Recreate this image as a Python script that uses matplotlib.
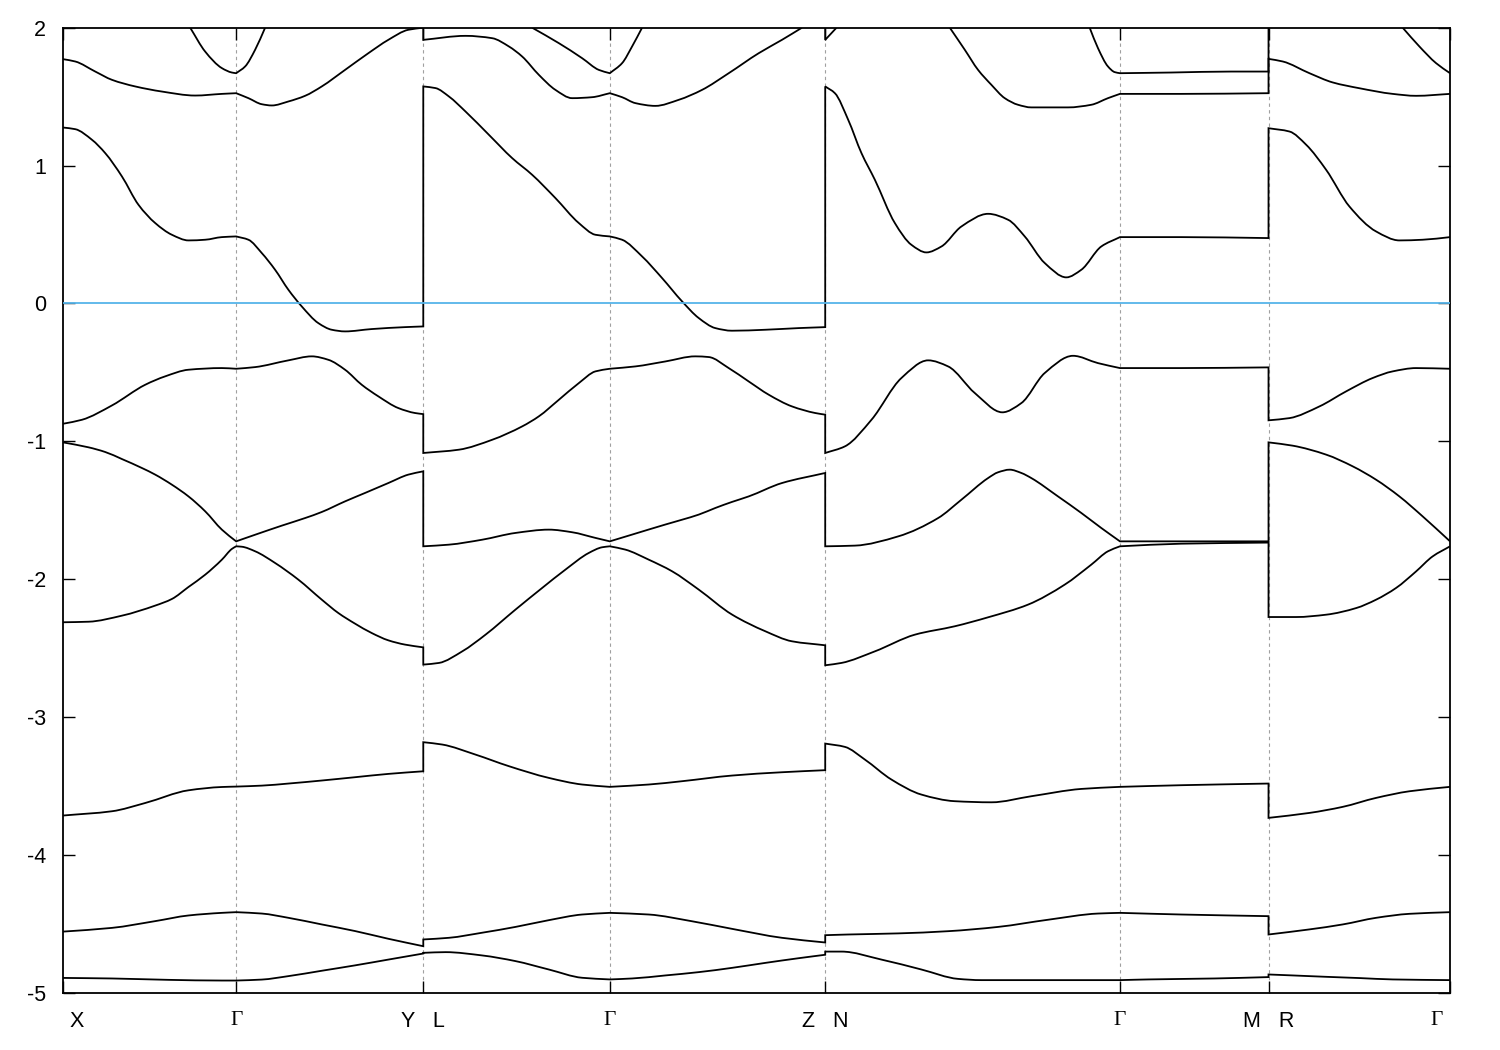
import numpy as np
import matplotlib.pyplot as plt
import matplotlib.transforms as mtransforms
from matplotlib.path import Path
from matplotlib.patches import PathPatch

plt.rcParams['font.family'] = ['Liberation Sans', 'DejaVu Sans']
plt.rcParams['axes.unicode_minus'] = False

# high symmetry points along the k-path
hs_k = [0.0, 1.733, 3.606, 5.473, 7.629, 10.579, 12.066, 13.883]
hs_labels = ['X', 'Γ', 'Y   L', 'Γ', 'Z   N', 'Γ', 'M   R', 'Γ']

gap = (np.nan, np.nan)

# bands, (k, E) pairs, bottom to top
band_a = [(0.000, -4.893), (0.490, -4.897), (1.056, -4.907), (1.590, -4.912), (1.733, -4.912),
          (1.990, -4.905), (2.256, -4.880), (2.590, -4.841), (2.923, -4.802), (3.256, -4.760),
          (3.606, -4.716),
          (3.606, -4.711), (3.829, -4.706), (4.196, -4.730), (4.529, -4.771), (4.863, -4.832),
          (5.196, -4.892), (5.473, -4.904), (5.696, -4.897), (6.029, -4.875), (6.363, -4.851),
          (6.696, -4.820), (7.029, -4.784), (7.363, -4.750), (7.629, -4.725),
          (7.629, -4.702), (7.792, -4.702), (8.192, -4.760), (8.592, -4.832), (8.959, -4.900),
          (9.192, -4.909), (9.859, -4.909), (10.579, -4.909), (10.859, -4.904), (11.526, -4.897),
          (12.066, -4.887),
          (12.066, -4.868), (12.309, -4.875), (12.643, -4.885), (12.976, -4.894), (13.309, -4.904),
          (13.883, -4.909)]

band_b = [(0.000, -4.557), (0.490, -4.530), (0.923, -4.481), (1.256, -4.440), (1.590, -4.421),
          (1.733, -4.416), (1.990, -4.426), (2.256, -4.457), (2.590, -4.505), (2.923, -4.553),
          (3.256, -4.609), (3.606, -4.663),
          (3.606, -4.614), (3.863, -4.602), (4.196, -4.565), (4.529, -4.523), (4.863, -4.474),
          (5.196, -4.433), (5.473, -4.421), (5.863, -4.433), (6.296, -4.482), (6.696, -4.537),
          (7.196, -4.602), (7.629, -4.636),
          (7.629, -4.583), (7.859, -4.578), (8.359, -4.570), (8.859, -4.554), (9.359, -4.523),
          (9.859, -4.471), (10.359, -4.426), (10.579, -4.421), (11.192, -4.433), (12.066, -4.445),
          (12.066, -4.578), (12.476, -4.541), (12.809, -4.505), (13.143, -4.457), (13.476, -4.428),
          (13.883, -4.416)]

band_c = [(0.000, -3.715), (0.490, -3.684), (0.823, -3.624), (1.256, -3.532), (1.590, -3.508),
          (1.733, -3.505), (1.990, -3.498), (2.256, -3.483), (2.590, -3.461), (2.923, -3.437),
          (3.256, -3.413), (3.606, -3.394),
          (3.606, -3.183), (3.796, -3.200), (4.129, -3.273), (4.463, -3.357), (4.863, -3.442),
          (5.196, -3.490), (5.473, -3.507), (5.863, -3.490), (6.196, -3.466), (6.696, -3.425),
          (7.196, -3.401), (7.629, -3.386),
          (7.629, -3.193), (7.826, -3.217), (8.026, -3.309), (8.292, -3.454), (8.592, -3.563),
          (8.926, -3.611), (9.292, -3.619), (9.692, -3.575), (10.192, -3.522), (10.579, -3.507),
          (11.192, -3.495), (12.066, -3.483),
          (12.066, -3.732), (12.476, -3.696), (12.809, -3.652), (13.143, -3.587), (13.476, -3.539),
          (13.883, -3.507)]

band_d = [(0.000, -2.313), (0.256, -2.309), (0.590, -2.265), (0.923, -2.192), (1.090, -2.144),
          (1.256, -2.057), (1.423, -1.968), (1.590, -1.859), (1.690, -1.781), (1.733, -1.762),
          (1.790, -1.765), (1.923, -1.798), (2.123, -1.883), (2.356, -2.004), (2.590, -2.149),
          (2.756, -2.246), (2.923, -2.323), (3.090, -2.391), (3.256, -2.444), (3.423, -2.475),
          (3.606, -2.495),
          (3.606, -2.620), (3.763, -2.608), (3.996, -2.524), (4.229, -2.403), (4.529, -2.221),
          (4.796, -2.064), (5.029, -1.931), (5.263, -1.810), (5.396, -1.769), (5.473, -1.762),
          (5.629, -1.786), (5.863, -1.859), (6.096, -1.943), (6.363, -2.076), (6.696, -2.257),
          (7.029, -2.378), (7.296, -2.451), (7.629, -2.480),
          (7.629, -2.625), (7.792, -2.608), (8.126, -2.524), (8.526, -2.403), (8.926, -2.342),
          (9.259, -2.277), (9.659, -2.185), (10.026, -2.040), (10.292, -1.895), (10.459, -1.798),
          (10.579, -1.762), (11.192, -1.743), (12.066, -1.735),
          (12.066, -2.275), (12.343, -2.275), (12.643, -2.258), (12.943, -2.210), (13.143, -2.149),
          (13.343, -2.064), (13.543, -1.944), (13.709, -1.835), (13.883, -1.762)]

band_e = [(0.000, -1.008), (0.256, -1.044), (0.423, -1.078), (0.590, -1.129), (0.790, -1.194),
          (0.923, -1.242), (1.090, -1.315), (1.256, -1.400), (1.423, -1.508), (1.590, -1.641),
          (1.733, -1.726), (1.923, -1.678), (2.190, -1.612), (2.423, -1.557), (2.590, -1.513),
          (2.823, -1.436), (3.023, -1.375), (3.256, -1.303), (3.456, -1.242), (3.606, -1.218),
          (3.606, -1.762), (3.863, -1.750), (4.196, -1.714), (4.529, -1.665), (4.863, -1.641),
          (5.096, -1.660), (5.329, -1.701), (5.473, -1.726), (5.696, -1.677), (6.029, -1.604),
          (6.196, -1.569), (6.363, -1.532), (6.529, -1.484), (6.696, -1.440), (6.863, -1.400),
          (7.196, -1.303), (7.629, -1.230),
          (7.629, -1.762), (7.926, -1.757), (8.359, -1.690), (8.759, -1.557), (8.992, -1.424),
          (9.259, -1.267), (9.359, -1.225), (9.476, -1.206), (9.592, -1.230), (9.692, -1.267),
          (9.959, -1.400), (10.192, -1.520), (10.392, -1.629), (10.579, -1.726), (11.192, -1.726),
          (12.066, -1.726),
          (12.066, -1.008), (12.309, -1.032), (12.643, -1.097), (12.909, -1.182), (13.143, -1.279),
          (13.376, -1.400), (13.609, -1.545), (13.883, -1.726)]

band_f = [(0.000, -0.873), (0.190, -0.844), (0.490, -0.740), (0.823, -0.590), (1.023, -0.529),
          (1.256, -0.481), (1.590, -0.469), (1.733, -0.474), (1.923, -0.462), (2.256, -0.413),
          (2.490, -0.384), (2.656, -0.409), (2.823, -0.481), (2.990, -0.590), (3.156, -0.674),
          (3.356, -0.759), (3.523, -0.795), (3.606, -0.803),
          (3.606, -1.085), (3.963, -1.061), (4.296, -0.989), (4.596, -0.892), (4.763, -0.819),
          (4.963, -0.699), (5.163, -0.578), (5.329, -0.493), (5.473, -0.474), (5.729, -0.457),
          (6.029, -0.421), (6.329, -0.384), (6.463, -0.389), (6.663, -0.469), (6.863, -0.566),
          (7.063, -0.662), (7.296, -0.747), (7.529, -0.795), (7.629, -0.807),
          (7.629, -1.085), (7.826, -1.037), (8.092, -0.844), (8.392, -0.541), (8.659, -0.413),
          (8.859, -0.457), (9.126, -0.650), (9.402, -0.790), (9.592, -0.723), (9.826, -0.505),
          (10.109, -0.380), (10.359, -0.433), (10.579, -0.469), (11.192, -0.469), (12.066, -0.464),
          (12.066, -0.848), (12.276, -0.832), (12.576, -0.747), (12.843, -0.638), (13.109, -0.541),
          (13.309, -0.493), (13.543, -0.469), (13.883, -0.474)]

band_g = [(0.000, 1.276), (0.123, 1.264), (0.290, 1.187), (0.423, 1.090), (0.590, 0.921),
          (0.756, 0.715), (0.923, 0.583), (1.090, 0.498), (1.256, 0.457), (1.423, 0.462),
          (1.590, 0.481), (1.733, 0.486), (1.856, 0.462), (1.990, 0.365), (2.123, 0.244),
          (2.256, 0.099), (2.390, -0.022), (2.556, -0.143), (2.690, -0.191), (2.823, -0.203),
          (3.090, -0.186), (3.423, -0.172), (3.606, -0.167),
          (3.606, 1.574), (3.729, 1.562), (3.863, 1.501), (4.029, 1.392), (4.263, 1.223),
          (4.496, 1.054), (4.696, 0.933), (4.929, 0.764), (5.163, 0.583), (5.329, 0.498),
          (5.473, 0.486), (5.596, 0.462), (5.796, 0.341), (5.996, 0.184), (6.196, 0.015),
          (6.363, -0.106), (6.529, -0.179), (6.696, -0.198), (7.029, -0.191), (7.363, -0.179),
          (7.629, -0.172),
          (7.629, 1.574), (7.726, 1.525), (7.859, 1.332), (7.992, 1.090), (8.126, 0.897),
          (8.326, 0.583), (8.492, 0.425), (8.642, 0.370), (8.792, 0.413), (8.992, 0.558),
          (9.259, 0.650), (9.459, 0.607), (9.626, 0.486), (9.826, 0.293), (10.042, 0.189),
          (10.192, 0.244), (10.392, 0.413), (10.579, 0.481), (11.192, 0.481), (12.066, 0.474),
          (12.066, 1.271), (12.276, 1.247), (12.443, 1.151), (12.643, 0.969), (12.876, 0.703),
          (13.143, 0.522), (13.376, 0.457), (13.609, 0.462), (13.883, 0.481)]

band_h = [(0.000, 1.772), (0.123, 1.755), (0.323, 1.682), (0.490, 1.622), (0.723, 1.574),
          (0.990, 1.537), (1.323, 1.508), (1.590, 1.520), (1.733, 1.525), (1.856, 1.489),
          (1.990, 1.445), (2.090, 1.436), (2.256, 1.465), (2.423, 1.506), (2.590, 1.574),
          (2.823, 1.694), (3.056, 1.815), (3.256, 1.912), (3.456, 1.985), (3.606, 2.000),
          (3.606, 1.912), (4.029, 1.941), (4.296, 1.924), (4.463, 1.864), (4.596, 1.791),
          (4.763, 1.658), (4.929, 1.549), (5.096, 1.489), (5.296, 1.496), (5.473, 1.525),
          (5.596, 1.496), (5.729, 1.453), (5.929, 1.433), (6.163, 1.477), (6.396, 1.549),
          (6.663, 1.670), (6.963, 1.815), (7.196, 1.912), (7.396, 2.000), gap,
          (7.629, 2.000), (7.629, 1.912), (7.742, 2.000), gap,
          (8.876, 2.000), (9.026, 1.840), (9.159, 1.694), (9.292, 1.586), (9.426, 1.489),
          (9.559, 1.441), (9.692, 1.422), (10.059, 1.422), (10.292, 1.441), (10.459, 1.489),
          (10.579, 1.520), (11.192, 1.520), (12.066, 1.525),
          (12.066, 1.774), (12.209, 1.755), (12.476, 1.670), (12.709, 1.603), (12.976, 1.561),
          (13.309, 1.520), (13.543, 1.506), (13.883, 1.520)]

band_i = [(1.273, 2.000), (1.423, 1.827), (1.590, 1.707), (1.690, 1.675), (1.733, 1.670),
          (1.823, 1.719), (1.923, 1.840), (2.023, 2.000), gap,
          (4.696, 2.000), (4.963, 1.888), (5.196, 1.779), (5.363, 1.694), (5.473, 1.670),
          (5.596, 1.743), (5.696, 1.864), (5.796, 2.000), gap,
          (10.276, 2.000), (10.359, 1.852), (10.459, 1.719), (10.526, 1.678), (10.579, 1.670),
          (11.092, 1.675), (11.692, 1.682), (12.066, 1.682), (12.066, 2.000), gap,
          (13.409, 2.000), (13.576, 1.864), (13.743, 1.743), (13.883, 1.670)]

bands = [band_a, band_b, band_c, band_d, band_e, band_f, band_g, band_h, band_i]


def slopes(x, y):
    # monotone (pchip-like) tangents so the drawn curve does not overshoot
    h = np.diff(x)
    d = np.diff(y) / h
    m = np.zeros(len(x))
    m[0], m[-1] = d[0], d[-1]
    for i in range(1, len(x) - 1):
        if d[i - 1] * d[i] > 0:
            w1 = 2 * h[i] + h[i - 1]
            w2 = h[i] + 2 * h[i - 1]
            m[i] = (w1 + w2) / (w1 / d[i - 1] + w2 / d[i])
    return m


def band_path(pts):
    arr = np.array(pts, dtype=float)
    verts, codes = [], []
    breaks = np.where(np.isnan(arr[:, 0]))[0]
    runs = np.split(arr, breaks)
    for run in runs:
        run = run[~np.isnan(run[:, 0])]
        if len(run) == 0:
            continue
        # cut into smooth pieces at jumps and at the symmetry points
        pieces, cur = [], [run[0]]
        for p in run[1:]:
            if p[0] == cur[-1][0]:
                pieces.append(cur)
                cur = [p]
            else:
                cur.append(p)
                if any(abs(p[0] - k) < 1e-9 for k in hs_k[1:-1]):
                    pieces.append(cur)
                    cur = [p]
        pieces.append(cur)
        verts.append(run[0])
        codes.append(Path.MOVETO)
        pen = run[0]
        for pc in pieces:
            pc = np.array(pc)
            if not np.allclose(pc[0], pen):
                verts.append(pc[0])
                codes.append(Path.LINETO)
            if len(pc) < 2:
                pen = pc[-1]
                continue
            x, y = pc[:, 0], pc[:, 1]
            m = slopes(x, y)
            for i in range(len(x) - 1):
                dx = (x[i + 1] - x[i]) / 3
                verts += [(x[i] + dx, y[i] + m[i] * dx),
                          (x[i + 1] - dx, y[i + 1] - m[i + 1] * dx),
                          (x[i + 1], y[i + 1])]
                codes += [Path.CURVE4] * 3
            pen = pc[-1]
    return Path(verts, codes)


fig = plt.figure(figsize=(15, 10.5), dpi=100)
ax = fig.add_axes([0.042, 0.0546, 0.9247, 0.919])

for b in bands:
    ax.add_patch(PathPatch(band_path(b), fill=False, edgecolor='black', lw=1.3, zorder=2))

for k in hs_k[1:-1]:
    ax.axvline(k, color='#a0a0a0', lw=0.8, ls=(0, (3, 3)), zorder=1)

ax.axhline(0, color='#56b4e9', lw=1.3, zorder=3)

ax.set_xlim(hs_k[0], hs_k[-1])
ax.set_ylim(-5, 2)
ax.set_yticks(range(-5, 3))
ax.set_xticks(hs_k)
ax.set_xticklabels([])

ax.tick_params(direction='in', length=8.5, width=1.0, labelsize=15.5,
               top=True, right=True)
ax.tick_params(axis='y', pad=12)
for s in ax.spines.values():
    s.set_linewidth(1.3)

# x labels as text so the end ones can sit inside like the original
trans = mtransforms.blended_transform_factory(ax.transData, ax.transAxes)
nudge = [10, 0, 0, 0, 0, 0, 0, -9.5]
for k, txt, dx in zip(hs_k, hs_labels, nudge):
    fam = ['Liberation Serif', 'DejaVu Serif'] if txt == 'Γ' else ['Liberation Sans', 'DejaVu Sans']
    off = mtransforms.ScaledTranslation(dx / 72, -13 / 72, fig.dpi_scale_trans)
    ax.text(k, 0, txt, transform=trans + off, ha='center', va='top',
            fontsize=15.5, family=fam)

fig.savefig('out.png', dpi=100)
